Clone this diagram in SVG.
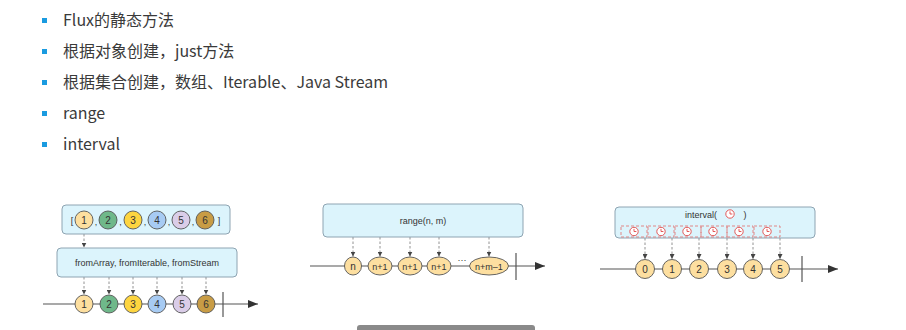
<svg xmlns="http://www.w3.org/2000/svg" width="906" height="330" viewBox="0 0 906 330">
<style>
.bt{font-family:"Noto Sans CJK SC","Liberation Sans",sans-serif;font-size:16px;fill:#3a3a3a}
.bul{fill:#1a9be0}
.box{fill:#dcf4fc;stroke:#8ea4b2;stroke-width:1}
.lbl{font-family:"Liberation Sans",Arial,sans-serif;font-size:9px;fill:#333;text-anchor:middle}
.num{font-family:"Liberation Sans",Arial,sans-serif;font-size:10px;fill:#333;text-anchor:middle;dominant-baseline:central}
.sm{font-size:9px}
.mk{stroke:#555;stroke-width:0.9}
.tl{stroke:#555;stroke-width:1.2;fill:none}
.dash{stroke:#777;stroke-width:0.8;stroke-dasharray:2.5 2;fill:none}
.rd{fill:none;stroke:#e07a7a;stroke-width:0.9;stroke-dasharray:3 2}
.clk{fill:#fff;stroke:#e04848;stroke-width:0.9}
.c0{fill:#fddfa0}
</style>
<defs>
<marker id="ah" viewBox="0 0 6 6" refX="6" refY="3" markerWidth="5" markerHeight="5" orient="auto" markerUnits="userSpaceOnUse">
<path d="M0,0 L6,3 L0,6 z" fill="#444"/>
</marker>
<marker id="big" viewBox="0 0 10 8" refX="10" refY="4" markerWidth="10" markerHeight="8" orient="auto" markerUnits="userSpaceOnUse">
<path d="M0,0 L10,4 L0,8 z" fill="#333"/>
</marker>
<g id="clock">
<circle r="4.2" class="clk"/>
<path d="M0,-2.6 V0 H2.4" fill="none" stroke="#e04848" stroke-width="0.9"/>
</g>
</defs>

<g id="bullets">
<rect class="bul" x="42" y="18" width="5" height="5"/>
<text class="bt" x="63" y="26">Flux的静态方法</text>
<rect class="bul" x="42" y="49" width="5" height="5"/>
<text class="bt" x="63" y="57">根据对象创建，just方法</text>
<rect class="bul" x="42" y="80" width="5" height="5"/>
<text class="bt" x="63" y="88">根据集合创建，数组、Iterable、Java Stream</text>
<rect class="bul" x="42" y="111" width="5" height="5"/>
<text class="bt" x="63" y="119">range</text>
<rect class="bul" x="42" y="142" width="5" height="5"/>
<text class="bt" x="63" y="150">interval</text>
</g>

<g id="connectors">
<line class="tl" x1="43" y1="304" x2="258" y2="304" marker-end="url(#big)"/>
<line class="tl" x1="223" y1="292" x2="223" y2="317"/>
<line class="dash" x1="84" y1="234" x2="84" y2="247.5" marker-end="url(#ah)"/>
<line class="dash" x1="84" y1="277" x2="84" y2="294.5" marker-end="url(#ah)"/>
<line class="dash" x1="109" y1="277" x2="109" y2="294.5" marker-end="url(#ah)"/>
<line class="dash" x1="133" y1="277" x2="133" y2="294.5" marker-end="url(#ah)"/>
<line class="dash" x1="157" y1="277" x2="157" y2="294.5" marker-end="url(#ah)"/>
<line class="dash" x1="182" y1="277" x2="182" y2="294.5" marker-end="url(#ah)"/>
<line class="dash" x1="206" y1="277" x2="206" y2="294.5" marker-end="url(#ah)"/>
<line class="tl" x1="310" y1="266" x2="545" y2="266" marker-end="url(#big)"/>
<line class="tl" x1="516" y1="253" x2="516" y2="280"/>
<line class="dash" x1="353" y1="237" x2="353" y2="256.5" marker-end="url(#ah)"/>
<line class="dash" x1="380" y1="237" x2="380" y2="256.5" marker-end="url(#ah)"/>
<line class="dash" x1="410" y1="237" x2="410" y2="256.5" marker-end="url(#ah)"/>
<line class="dash" x1="439" y1="237" x2="439" y2="256.5" marker-end="url(#ah)"/>
<line class="dash" x1="489" y1="237" x2="489" y2="256.5" marker-end="url(#ah)"/>
<line class="tl" x1="600" y1="269" x2="838" y2="269" marker-end="url(#big)"/>
<line class="tl" x1="802" y1="256" x2="802" y2="282"/>
<line class="dash" x1="645" y1="238" x2="645" y2="259" marker-end="url(#ah)"/>
<line class="dash" x1="672" y1="238" x2="672" y2="259" marker-end="url(#ah)"/>
<line class="dash" x1="699" y1="238" x2="699" y2="259" marker-end="url(#ah)"/>
<line class="dash" x1="727" y1="238" x2="727" y2="259" marker-end="url(#ah)"/>
<line class="dash" x1="753" y1="238" x2="753" y2="259" marker-end="url(#ah)"/>
<line class="dash" x1="780" y1="238" x2="780" y2="259" marker-end="url(#ah)"/>
</g>

<g id="array-box">
<rect class="box" x="62" y="205" width="168" height="29" rx="4"/>
<text class="lbl" x="72" y="223.5" font-size="10">[</text>
<circle class="mk" cx="84" cy="220" r="9" fill="#fddf9f"/><text class="num" x="84" y="220.5">1</text>
<text class="lbl" x="96" y="225">,</text>
<circle class="mk" cx="108" cy="220" r="9" fill="#6fb88a"/><text class="num" x="108" y="220.5">2</text>
<text class="lbl" x="120.5" y="225">,</text>
<circle class="mk" cx="133" cy="220" r="9" fill="#fdd540"/><text class="num" x="133" y="220.5">3</text>
<text class="lbl" x="145" y="225">,</text>
<circle class="mk" cx="157" cy="220" r="9" fill="#a7cbf3"/><text class="num" x="157" y="220.5">4</text>
<text class="lbl" x="169" y="225">,</text>
<circle class="mk" cx="181" cy="220" r="9" fill="#dacde8"/><text class="num" x="181" y="220.5">5</text>
<text class="lbl" x="193" y="225">,</text>
<circle class="mk" cx="205" cy="220" r="9" fill="#c89c45"/><text class="num" x="205" y="220.5">6</text>
<text class="lbl" x="219" y="223.5" font-size="10">]</text>
</g>

<g id="from-box">
<rect class="box" x="57" y="248" width="180" height="29" rx="4"/>
<text class="lbl" x="147" y="266">fromArray, fromIterable, fromStream</text>
</g>

<g id="out1">
<circle class="mk" cx="84" cy="304" r="9" fill="#fddf9f"/><text class="num" x="84" y="304.5">1</text>
<circle class="mk" cx="109" cy="304" r="9" fill="#6fb88a"/><text class="num" x="109" y="304.5">2</text>
<circle class="mk" cx="133" cy="304" r="9" fill="#fdd540"/><text class="num" x="133" y="304.5">3</text>
<circle class="mk" cx="157" cy="304" r="9" fill="#a7cbf3"/><text class="num" x="157" y="304.5">4</text>
<circle class="mk" cx="182" cy="304" r="9" fill="#dacde8"/><text class="num" x="182" y="304.5">5</text>
<circle class="mk" cx="206" cy="304" r="9" fill="#c89c45"/><text class="num" x="206" y="304.5">6</text>
</g>

<g id="range-box">
<rect class="box" x="323" y="204" width="200" height="33" rx="4"/>
<text class="lbl" x="423" y="224">range(n, m)</text>
</g>

<g id="out2">
<ellipse class="mk c0" cx="353" cy="266" rx="8.5" ry="9"/><text class="num" x="353" y="266.5">n</text>
<ellipse class="mk c0" cx="380" cy="266" rx="12" ry="9"/><text class="num sm" x="380" y="266.5">n+1</text>
<ellipse class="mk c0" cx="410" cy="266" rx="12" ry="9"/><text class="num sm" x="410" y="266.5">n+1</text>
<ellipse class="mk c0" cx="439" cy="266" rx="12" ry="9"/><text class="num sm" x="439" y="266.5">n+1</text>
<text class="lbl" x="462" y="263" fill="#666">···</text>
<ellipse class="mk c0" cx="489" cy="266" rx="19.5" ry="9"/><text class="num sm" x="489" y="266.5">n+m–1</text>
</g>

<g id="interval-box">
<rect class="box" x="615" y="207" width="200" height="31" rx="4"/>
<text class="lbl" x="701" y="218">interval(</text>
<use href="#clock" x="730" y="214"/>
<text class="lbl" x="745" y="218">)</text>
<rect class="rd" x="621" y="226" width="26" height="11"/>
<rect class="rd" x="648" y="226" width="26" height="11"/>
<rect class="rd" x="675" y="226" width="26" height="11"/>
<rect class="rd" x="701" y="226" width="26" height="11"/>
<rect class="rd" x="727" y="226" width="26" height="11"/>
<rect class="rd" x="754" y="226" width="26" height="11"/>
<use href="#clock" x="634" y="231.5"/>
<use href="#clock" x="661" y="231.5"/>
<use href="#clock" x="687" y="231.5"/>
<use href="#clock" x="713" y="231.5"/>
<use href="#clock" x="739" y="231.5"/>
<use href="#clock" x="767" y="231.5"/>
</g>

<g id="out3">
<circle class="mk c0" cx="645" cy="269" r="9.5"/><text class="num" x="645" y="269.5">0</text>
<circle class="mk c0" cx="672" cy="269" r="9.5"/><text class="num" x="672" y="269.5">1</text>
<circle class="mk c0" cx="699" cy="269" r="9.5"/><text class="num" x="699" y="269.5">2</text>
<circle class="mk c0" cx="727" cy="269" r="9.5"/><text class="num" x="727" y="269.5">3</text>
<circle class="mk c0" cx="753" cy="269" r="9.5"/><text class="num" x="753" y="269.5">4</text>
<circle class="mk c0" cx="780" cy="269" r="9.5"/><text class="num" x="780" y="269.5">5</text>
</g>

<rect x="357" y="325" width="178" height="8" rx="3" fill="#8a8a8a"/>
</svg>
